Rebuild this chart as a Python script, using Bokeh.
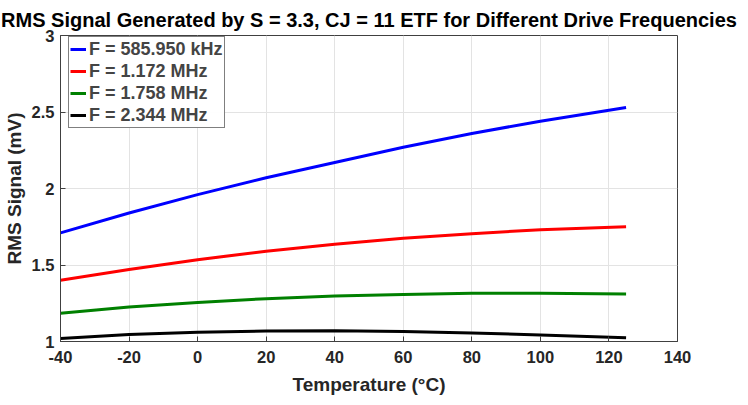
from bokeh.plotting import figure
from bokeh.models import Range1d, FixedTicker, Legend, LegendItem
from bokeh.embed import file_html
from bokeh.resources import INLINE

temps = [-40, -20, 0, 20, 40, 60, 80, 100, 125]
series_labels = ["F = 585.950 kHz", "F = 1.172 MHz", "F = 1.758 MHz", "F = 2.344 MHz"]
rms_585k = [1.71, 1.84, 1.96, 2.07, 2.17, 2.27, 2.36, 2.44, 2.53]
rms_1172k = [1.40, 1.47, 1.535, 1.59, 1.635, 1.675, 1.705, 1.73, 1.75]
rms_1758k = [1.185, 1.225, 1.255, 1.28, 1.297, 1.308, 1.315, 1.315, 1.31]
rms_2344k = [1.02, 1.045, 1.06, 1.068, 1.07, 1.065, 1.055, 1.043, 1.025]
x_ticks = [-40, -20, 0, 20, 40, 60, 80, 100, 120, 140]
x_tick_labels = ["-40", "-20", "0", "20", "40", "60", "80", "100", "120", "140"]
y_ticks = [1, 1.5, 2, 2.5, 3]
y_tick_labels = ["1", "1.5", "2", "2.5", "3"]
colors = ["#0000ff", "#ff0000", "#008000", "#000000"]

FONT = "Liberation Sans"

p = figure(frame_width=617, frame_height=306, output_backend="svg", toolbar_location=None,
           x_range=Range1d(-40, 140), y_range=Range1d(1, 3),
           min_border_left=56, min_border_right=65, min_border_top=35, min_border_bottom=58,
           title="RMS Signal Generated by S = 3.3, CJ = 11 ETF for Different Drive Frequencies")

p.title.text_font = FONT
p.title.text_font_size = "20px"
p.title.text_font_style = "bold"
p.title.align = "center"
p.title.text_color = "#000000"

renderers = []
for ys, c in zip([rms_585k, rms_1172k, rms_1758k, rms_2344k], colors):
    r = p.line(temps, ys, line_color=c, line_width=3)
    renderers.append(r)

for ax in (p.xaxis[0], p.yaxis[0]):
    ax.major_label_text_font = FONT
    ax.major_label_text_font_size = "16.5px"
    ax.major_label_text_font_style = "bold"
    ax.major_label_text_color = "#262626"
    ax.axis_label_text_font = FONT
    ax.axis_label_text_font_size = "19px"
    ax.axis_label_text_font_style = "bold"
    ax.axis_label_text_color = "#262626"
    ax.axis_line_color = "#404040"
    ax.major_tick_line_color = "#404040"
    ax.major_tick_in = 5
    ax.major_tick_out = 0
    ax.minor_tick_line_color = None

p.xaxis[0].ticker = FixedTicker(ticks=x_ticks)
p.xaxis[0].major_label_overrides = {t: l for t, l in zip(x_ticks, x_tick_labels)}
p.yaxis[0].ticker = FixedTicker(ticks=y_ticks)
p.yaxis[0].major_label_overrides = {float(t): l for t, l in zip(y_ticks, y_tick_labels)}
p.xaxis[0].axis_label = "Temperature (\u00b0C)"
p.yaxis[0].axis_label = "RMS Signal (mV)"
p.xaxis[0].major_label_standoff = 9
p.xaxis[0].axis_label_standoff = 8
p.yaxis[0].major_label_standoff = 6
p.yaxis[0].axis_label_standoff = 4

p.xgrid.grid_line_color = "#e3e3e3"
p.ygrid.grid_line_color = "#e3e3e3"
p.outline_line_color = "#404040"
p.outline_line_alpha = 1

legend = Legend(items=[LegendItem(label=l, renderers=[r]) for l, r in zip(series_labels, renderers)],
                location=(8, 213))
legend.label_text_font = FONT
legend.label_text_font_size = "18px"
legend.label_text_font_style = "bold"
legend.border_line_color = "#000000"
legend.border_line_width = 1
legend.glyph_width = 16
legend.glyph_height = 22
legend.label_height = 22
legend.spacing = 0
legend.padding = 1
legend.margin = 0
legend.label_standoff = 3
p.add_layout(legend, "center")

open("out.html", "w").write(file_html(p, INLINE))
